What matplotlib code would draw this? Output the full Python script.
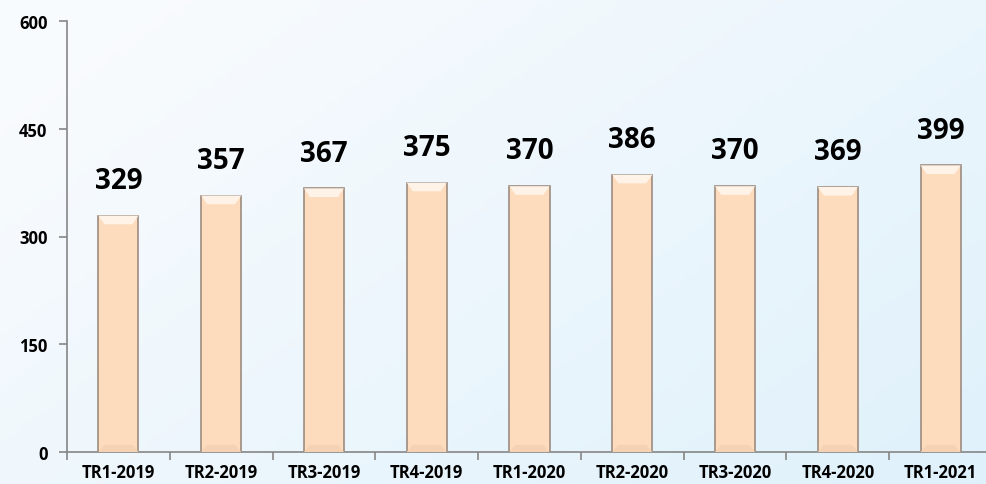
import matplotlib
matplotlib.use("Agg")
import matplotlib.pyplot as plt
import numpy as np

categories = ["TR1-2019", "TR2-2019", "TR3-2019", "TR4-2019", "TR1-2020",
              "TR2-2020", "TR3-2020", "TR4-2020", "TR1-2021"]
values = [329, 357, 367, 375, 370, 386, 370, 369, 399]
yticks = [0, 150, 300, 450, 600]

plt.rcParams['font.family'] = ['Open Sans', 'DejaVu Sans']

fig = plt.figure(figsize=(9.86, 4.85), dpi=100)

# background gradient
bg = fig.add_axes([0, 0, 1, 1], zorder=-10)
h, w = 100, 200
yy, xx = np.mgrid[0:1:complex(0, h), 0:1:complex(0, w)]
t = np.clip(0.65 * xx + 0.45 * (1 - yy) - 0.1, 0, 1)
c0 = np.array([0.975, 0.985, 0.995])
c1 = np.array([0.875, 0.945, 0.985])
img = c0[None, None, :] * (1 - t[..., None]) + c1[None, None, :] * t[..., None]
bg.imshow(img, aspect='auto', extent=[0, 1, 0, 1], origin='lower')
bg.axis('off')

left = 67 / 986
right = 992 / 986
bottom = 1 - 453 / 485
top = 1 - 22 / 485
ax = fig.add_axes([left, bottom, right - left, top - bottom])
ax.patch.set_alpha(0)

x = np.arange(len(categories))
bw = 0.39
ax.bar(x, values, width=bw, color="#FDDCBE", edgecolor="#9c8c80", linewidth=1.2, zorder=3)
# bevel highlight at top of each bar
for xi, v in zip(x, values):
    ax.fill([xi - bw / 2, xi + bw / 2, xi + bw / 2 - 0.06, xi - bw / 2 + 0.06],
            [v, v, v - 12, v - 12], color="#fff3e8", zorder=4, lw=0)
    ax.fill([xi - bw / 2, xi + bw / 2, xi + bw / 2 - 0.06, xi - bw / 2 + 0.06],
            [0, 0, 10, 10], color="#f6d2b4", zorder=4, lw=0)

for xi, v in zip(x, values):
    ax.annotate(str(v), (xi, v), xytext=(0, 15), textcoords='offset points',
                ha='center', va='bottom', fontsize=20, fontweight='bold', color='black')

ax.set_xlim(-0.5, len(categories) - 0.5)
ax.set_ylim(0, 600)
ax.set_yticks(yticks)
ax.set_yticklabels([str(v) for v in yticks], fontsize=12, fontweight='bold')
ax.set_xticks(np.arange(len(categories) + 1) - 0.5, minor=False)
ax.set_xticklabels([""] * (len(categories) + 1))
ax.set_xticks(x, minor=True)
ax.set_xticklabels(categories, minor=True, fontsize=12, fontweight='bold')
ax.tick_params(axis='x', which='minor', length=0, pad=8)
ax.tick_params(axis='x', which='major', length=6, color='#868686', width=1.2)
ax.tick_params(axis='y', length=6, color='#868686', width=1.2, pad=8)
for s in ['top', 'right']:
    ax.spines[s].set_visible(False)
for s in ['left', 'bottom']:
    ax.spines[s].set_color('#868686')
    ax.spines[s].set_linewidth(1.2)

fig.savefig("out.png", dpi=100)
